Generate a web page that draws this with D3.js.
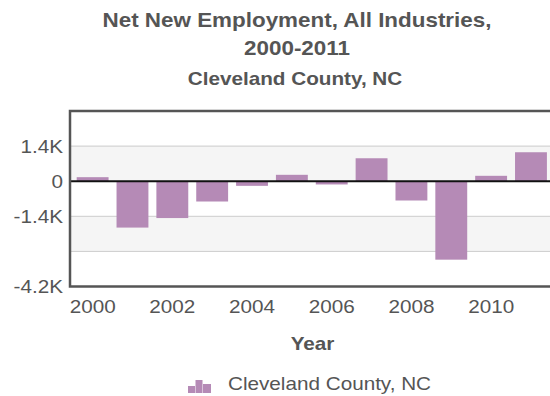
<!DOCTYPE html>
<html><head><meta charset="utf-8">
<script src="https://cdn.jsdelivr.net/npm/d3@7"></script>
<style>body{margin:0;background:#fff}svg{display:block}text{font-family:"Liberation Sans",Arial,sans-serif}</style>
</head><body>
<svg id="c" width="550" height="396"></svg>
<script>
const years = ["2000","2001","2002","2003","2004","2005","2006","2007","2008","2009","2010","2011"];
const values = [160,-1850,-1470,-810,-185,255,-130,915,-770,-3130,215,1155];
const yTicks = [1400,0,-1400,-2800,-4200];
const yTickLabels = ["1.4K","0","-1.4K","","-4.2K"];
const xTickLabels = ["2000","2002","2004","2006","2008","2010"];
const seriesName = "Cleveland County, NC";

const SX = 1.15, TXT = "#555";
const svg = d3.select("#c");
const L = 70, R = 556, T = 111, B = 286.5;
const y = d3.scaleLinear().domain([-4200, 2800]).range([B, T]);
const x = d3.scaleBand().domain(years).range([72.7, 550.9]).paddingInner(0.2).paddingOuter(0.1);

function stext(px, py, str, size, weight, anchor) {
  return svg.append("text").attr("transform", `translate(${px},${py}) scale(${SX},1)`)
    .attr("text-anchor", anchor || "middle").attr("font-size", size).attr("font-weight", weight || "normal")
    .attr("fill", TXT).text(str);
}
stext(297, 27, "Net New Employment, All Industries,", 19.5, "bold");
stext(297, 55, "2000-2011", 19.5, "bold");
stext(295, 85, "Cleveland County, NC", 18, "bold");

// bands
[[1400,0],[-1400,-2800]].forEach(([a,b]) => {
  svg.append("rect").attr("x", L).attr("width", R-L).attr("y", y(a)).attr("height", y(b)-y(a)).attr("fill", "#f5f5f5");
});
// grid
svg.append("g").selectAll("line").data(yTicks.filter(v => v !== 0 && v !== -4200)).join("line")
  .attr("x1", L).attr("x2", R).attr("y1", d => y(d)).attr("y2", d => y(d)).attr("stroke", "#ccc").attr("stroke-width", 1);

// bars
svg.append("g").selectAll("rect").data(years).join("rect")
  .attr("x", d => x(d)).attr("width", x.bandwidth())
  .attr("y", (d,i) => y(Math.max(0, values[i])))
  .attr("height", (d,i) => Math.abs(y(values[i]) - y(0)))
  .attr("fill", "#b58ab6");

// zero line
svg.append("line").attr("x1", L).attr("x2", R).attr("y1", y(0)).attr("y2", y(0)).attr("stroke", "#111").attr("stroke-width", 2);

// frame
svg.append("rect").attr("x", L).attr("y", T).attr("width", R-L).attr("height", B-T)
  .attr("fill", "none").attr("stroke", "#555").attr("stroke-width", 2.5);

// y axis
const ya = svg.append("g").attr("transform", `translate(${L},0)`)
  .call(d3.axisLeft(y).tickValues(yTicks).tickFormat((d,i) => yTickLabels[i]).tickSize(0).tickPadding(0));
ya.select(".domain").remove();
ya.selectAll("text").attr("x", 0).attr("dy", "0.35em").attr("font-size", 18).attr("fill", TXT)
  .attr("font-family", '"Liberation Sans",Arial,sans-serif')
  .attr("transform", `translate(-7,0) scale(${SX},1)`);

// x axis
const xa = svg.append("g").attr("transform", `translate(0,${B})`)
  .call(d3.axisBottom(x).tickValues(xTickLabels).tickSize(0).tickPadding(0));
xa.select(".domain").remove();
xa.selectAll("text").attr("y", 0).attr("dy", "26.5").attr("font-size", 18).attr("fill", TXT)
  .attr("font-family", '"Liberation Sans",Arial,sans-serif')
  .attr("transform", `scale(${SX},1)`);

stext(312.5, 350, "Year", 18, "bold");

// legend
const icon = svg.append("g").attr("fill", "#b58ab6");
[[188,386,7,7],[195.5,380,7,13],[203,384,8,9]].forEach(r => icon.append("rect").attr("x", r[0]).attr("y", r[1]).attr("width", r[2]).attr("height", r[3]));
stext(228, 390, seriesName, 18, "normal", "start");
</script>
</body></html>
